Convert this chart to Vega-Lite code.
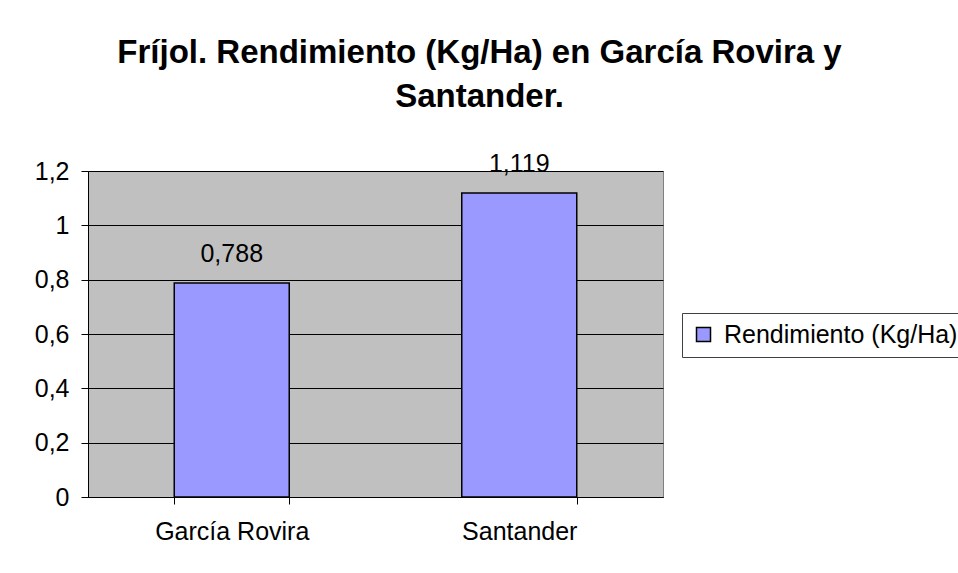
{
  "$schema": "https://vega.github.io/schema/vega-lite/v6.json",
  "width": 575,
  "height": 326,
  "autosize": {"type": "none"},
  "padding": {"left": 88, "top": 171, "right": 295, "bottom": 76},
  "background": "white",
  "config": {
    "locale": {"number": {"decimal": ",", "thousands": ".", "grouping": [3], "currency": ["", ""]}},
    "font": "Liberation Sans",
    "view": {"fill": "#C0C0C0", "stroke": "#808080", "strokeWidth": 1}
  },
  "title": {
    "text": ["Fríjol. Rendimiento (Kg/Ha) en García Rovira y", "Santander."],
    "fontSize": 33,
    "fontWeight": "bold",
    "font": "Liberation Sans",
    "color": "black",
    "anchor": "middle",
    "frame": "group",
    "dx": 104,
    "offset": 38,
    "lineHeight": 44
  },
  "data": {
    "values": [
      {"region": "García Rovira", "rendimiento": 0.788, "serie": "Rendimiento (Kg/Ha)"},
      {"region": "Santander", "rendimiento": 1.119, "serie": "Rendimiento (Kg/Ha)"}
    ]
  },
  "layer": [
    {
      "mark": {"type": "bar", "stroke": "black", "strokeWidth": 1.5},
      "encoding": {
        "x": {
          "field": "region", "type": "nominal", "sort": null,
          "scale": {"paddingInner": 0.6, "paddingOuter": 0.3},
          "axis": {"title": null, "labelAngle": 0, "domainColor": "black", "tickColor": "black", "tickSize": 7, "tickBand": "extent", "labelPadding": 15, "labelFontSize": 25, "labelColor": "black"}
        },
        "y": {
          "field": "rendimiento", "type": "quantitative",
          "scale": {"domain": [0, 1.2], "nice": false},
          "axis": {"title": null, "values": [0, 0.2, 0.4, 0.6, 0.8, 1, 1.2], "format": ".1~f", "grid": true, "gridColor": "black", "gridOpacity": 1, "domainColor": "black", "tickColor": "black", "tickSize": 7, "labelFontSize": 25, "labelColor": "black", "labelPadding": 12}
        },
        "color": {
          "field": "serie", "type": "nominal",
          "scale": {"range": ["#9999FF"]},
          "legend": {"title": null, "orient": "none", "legendX": 594, "legendY": 142, "strokeColor": "#404040", "fillColor": "white", "padding": 9, "symbolType": "square", "symbolSize": 196, "symbolStrokeColor": "black", "symbolStrokeWidth": 1.5, "labelFontSize": 25, "labelColor": "black", "labelLimit": 400, "labelOffset": 8}
        }
      }
    },
    {
      "mark": {"type": "text", "dy": -29, "fontSize": 25, "color": "black"},
      "encoding": {
        "x": {"field": "region", "type": "nominal", "sort": null},
        "y": {"field": "rendimiento", "type": "quantitative"},
        "text": {"field": "rendimiento", "type": "quantitative", "format": ".3f"}
      }
    }
  ]
}
